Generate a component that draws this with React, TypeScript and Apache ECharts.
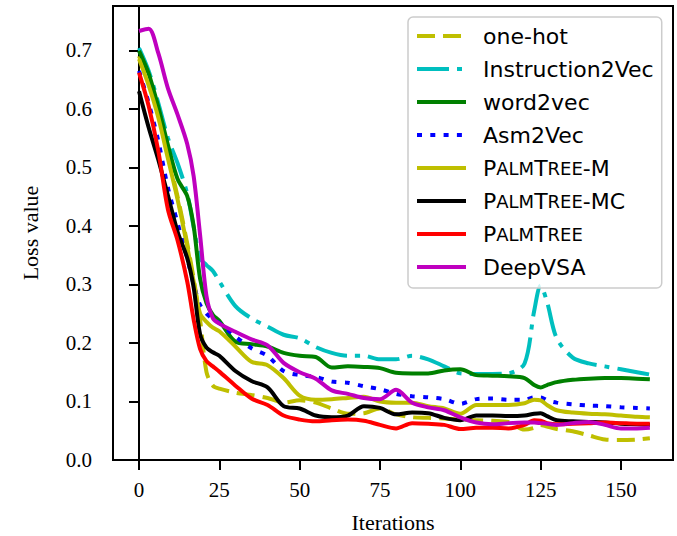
import React, { useEffect, useRef } from "react";
import * as echarts from "echarts";

const iterations = [0, 3, 6, 9, 12, 15, 17, 19, 21, 23, 25, 30, 35, 40, 45, 50, 55, 60, 65, 70, 75, 80, 85, 90, 95, 100, 105, 110, 115, 120, 123, 125, 127, 130, 135, 140, 145, 150, 155, 159];

const oneHot = [0.690, 0.645, 0.590, 0.520, 0.450, 0.370, 0.310, 0.240, 0.150, 0.127, 0.122, 0.115, 0.111, 0.106, 0.098, 0.102, 0.098, 0.088, 0.079, 0.080, 0.088, 0.078, 0.073, 0.072, 0.071, 0.069, 0.068, 0.067, 0.065, 0.052, 0.055, 0.060, 0.057, 0.053, 0.049, 0.042, 0.035, 0.034, 0.035, 0.037];
const instruction2Vec = [0.704, 0.665, 0.610, 0.550, 0.507, 0.455, 0.398, 0.345, 0.333, 0.323, 0.305, 0.263, 0.242, 0.228, 0.214, 0.208, 0.193, 0.183, 0.178, 0.178, 0.172, 0.172, 0.178, 0.172, 0.160, 0.148, 0.147, 0.147, 0.148, 0.165, 0.255, 0.298, 0.270, 0.208, 0.175, 0.165, 0.160, 0.155, 0.150, 0.146];
const word2vec = [0.699, 0.660, 0.603, 0.538, 0.480, 0.451, 0.400, 0.310, 0.268, 0.248, 0.238, 0.202, 0.198, 0.194, 0.183, 0.178, 0.176, 0.158, 0.160, 0.159, 0.157, 0.149, 0.148, 0.148, 0.153, 0.155, 0.145, 0.144, 0.143, 0.140, 0.128, 0.124, 0.128, 0.133, 0.137, 0.139, 0.140, 0.140, 0.139, 0.138];
const asm2Vec = [0.665, 0.610, 0.545, 0.465, 0.405, 0.345, 0.300, 0.265, 0.250, 0.241, 0.234, 0.211, 0.191, 0.178, 0.152, 0.145, 0.142, 0.134, 0.132, 0.126, 0.121, 0.113, 0.109, 0.107, 0.104, 0.096, 0.104, 0.105, 0.103, 0.103, 0.107, 0.107, 0.102, 0.098, 0.095, 0.093, 0.092, 0.090, 0.089, 0.088];
const palmTreeM = [0.685, 0.640, 0.585, 0.515, 0.445, 0.365, 0.305, 0.250, 0.236, 0.226, 0.220, 0.194, 0.168, 0.162, 0.140, 0.110, 0.103, 0.104, 0.106, 0.108, 0.100, 0.098, 0.098, 0.092, 0.088, 0.079, 0.094, 0.094, 0.094, 0.097, 0.103, 0.102, 0.094, 0.085, 0.081, 0.079, 0.078, 0.076, 0.074, 0.073];
const palmTreeMC = [0.630, 0.568, 0.513, 0.452, 0.390, 0.345, 0.295, 0.215, 0.192, 0.184, 0.178, 0.152, 0.135, 0.124, 0.092, 0.088, 0.076, 0.073, 0.076, 0.092, 0.089, 0.078, 0.081, 0.080, 0.072, 0.068, 0.076, 0.076, 0.075, 0.076, 0.079, 0.080, 0.075, 0.068, 0.066, 0.065, 0.064, 0.062, 0.061, 0.060];
const palmTree = [0.662, 0.605, 0.528, 0.428, 0.375, 0.305, 0.240, 0.190, 0.169, 0.160, 0.151, 0.127, 0.105, 0.094, 0.076, 0.069, 0.066, 0.068, 0.069, 0.067, 0.060, 0.054, 0.063, 0.062, 0.060, 0.053, 0.055, 0.055, 0.054, 0.060, 0.068, 0.067, 0.063, 0.061, 0.062, 0.063, 0.064, 0.063, 0.062, 0.062];
const deepVSA = [0.733, 0.737, 0.695, 0.635, 0.590, 0.540, 0.485, 0.385, 0.280, 0.242, 0.233, 0.219, 0.206, 0.196, 0.166, 0.150, 0.139, 0.119, 0.113, 0.106, 0.104, 0.120, 0.098, 0.090, 0.085, 0.073, 0.064, 0.061, 0.063, 0.064, 0.064, 0.063, 0.062, 0.060, 0.063, 0.065, 0.060, 0.054, 0.054, 0.055];

const xTicks = [0, 25, 50, 75, 100, 125, 150];
const yTicks = [0, 0.1, 0.2, 0.3, 0.4, 0.5, 0.6, 0.7];

const seriesDefs = [
  { name: "one-hot", values: oneHot, color: "#bfbf00", dash: [18, 8] as any },
  { name: "Instruction2Vec", values: instruction2Vec, color: "#00bfbf", dash: [32, 8, 5, 8] as any },
  { name: "word2vec", values: word2vec, color: "#008000", dash: "solid" as any },
  { name: "Asm2Vec", values: asm2Vec, color: "#0000ff", dash: [5, 8.3] as any },
  { name: "PalmTree-M", values: palmTreeM, color: "#bfbf00", dash: "solid" as any },
  { name: "PalmTree-MC", values: palmTreeMC, color: "#000000", dash: "solid" as any },
  { name: "PalmTree", values: palmTree, color: "#ff0000", dash: "solid" as any },
  { name: "DeepVSA", values: deepVSA, color: "#bf00bf", dash: "solid" as any },
];

const legendLabel = (name: string) => {
  if (name.startsWith("PalmTree")) {
    const suffix = name.slice(8);
    return "{c|P}{s|ALM}{c|T}{s|REE}" + (suffix ? "{c|" + suffix + "}" : "");
  }
  return name;
};

export default function App() {
  const ref = useRef<HTMLDivElement>(null);
  useEffect(() => {
    document.body.style.margin = "0";
    if (!ref.current) return;
    const chart = echarts.init(ref.current, null, { renderer: "svg" });
    const serif = "Liberation Serif";
    const sans = "DejaVu Sans";
    chart.setOption({
      animation: false,
      backgroundColor: "#ffffff",
      grid: {
        left: 113,
        top: 6,
        width: 560,
        height: 454,
        show: true,
        borderColor: "#000",
        borderWidth: 2,
        containLabel: false,
        outerBoundsMode: "none",
      },
      legend: {
        orient: "vertical",
        left: 408,
        top: 17,
        padding: [8, 8, 10, 7],
        itemWidth: 49,
        itemHeight: 14,
        itemGap: 11,
        backgroundColor: "rgba(255,255,255,0.8)",
        borderColor: "#cccccc",
        borderWidth: 1.5,
        borderRadius: 5,
        itemStyle: { opacity: 0, borderWidth: 0 },
        lineStyle: { width: 4 },
        formatter: legendLabel,
        textStyle: {
          fontFamily: sans,
          fontSize: 22,
          lineHeight: 22,
          color: "#000",
          padding: [0, 0, 0, 12],
          rich: {
            c: { fontFamily: sans, fontSize: 22, lineHeight: 22, color: "#000" },
            s: { fontFamily: sans, fontSize: 18, lineHeight: 22, color: "#000" },
          },
        },
        data: seriesDefs.map((s) => s.name),
      },
      xAxis: {
        type: "value",
        min: -8.1,
        max: 166.2,
        name: "Iterations",
        nameLocation: "middle",
        nameGap: 51,
        nameTextStyle: { fontFamily: serif, fontSize: 22, color: "#000" },
        axisLine: { show: true, lineStyle: { color: "#000", width: 2 } },
        axisTick: { show: true, length: 10, lineStyle: { color: "#000", width: 2 }, customValues: xTicks },
        axisLabel: { fontFamily: serif, fontSize: 21, color: "#000", margin: 19, customValues: xTicks },
        splitLine: { show: false },
      },
      yAxis: {
        type: "value",
        min: 0,
        max: 0.7757,
        name: "Loss value",
        nameLocation: "middle",
        nameGap: 72,
        nameTextStyle: { fontFamily: serif, fontSize: 22, color: "#000" },
        axisLine: { show: true, lineStyle: { color: "#000", width: 2 } },
        axisTick: { show: true, length: 10, lineStyle: { color: "#000", width: 2 }, customValues: yTicks },
        axisLabel: {
          fontFamily: serif,
          fontSize: 21,
          color: "#000",
          margin: 21,
          customValues: yTicks,
          formatter: (v: number) => v.toFixed(1),
        },
        splitLine: { show: false },
      },
      series: seriesDefs.map((s) => ({
        name: s.name,
        type: "line",
        data: iterations.map((it, i) => [it, s.values[i]]),
        symbol: "none",
        showSymbol: false,
        smooth: 0.3,
        lineStyle: { color: s.color, width: 4, type: s.dash },
        itemStyle: { color: s.color },
      })),
    });
    return () => chart.dispose();
  }, []);
  return <div ref={ref} style={{ width: 677, height: 536 }} />;
}
